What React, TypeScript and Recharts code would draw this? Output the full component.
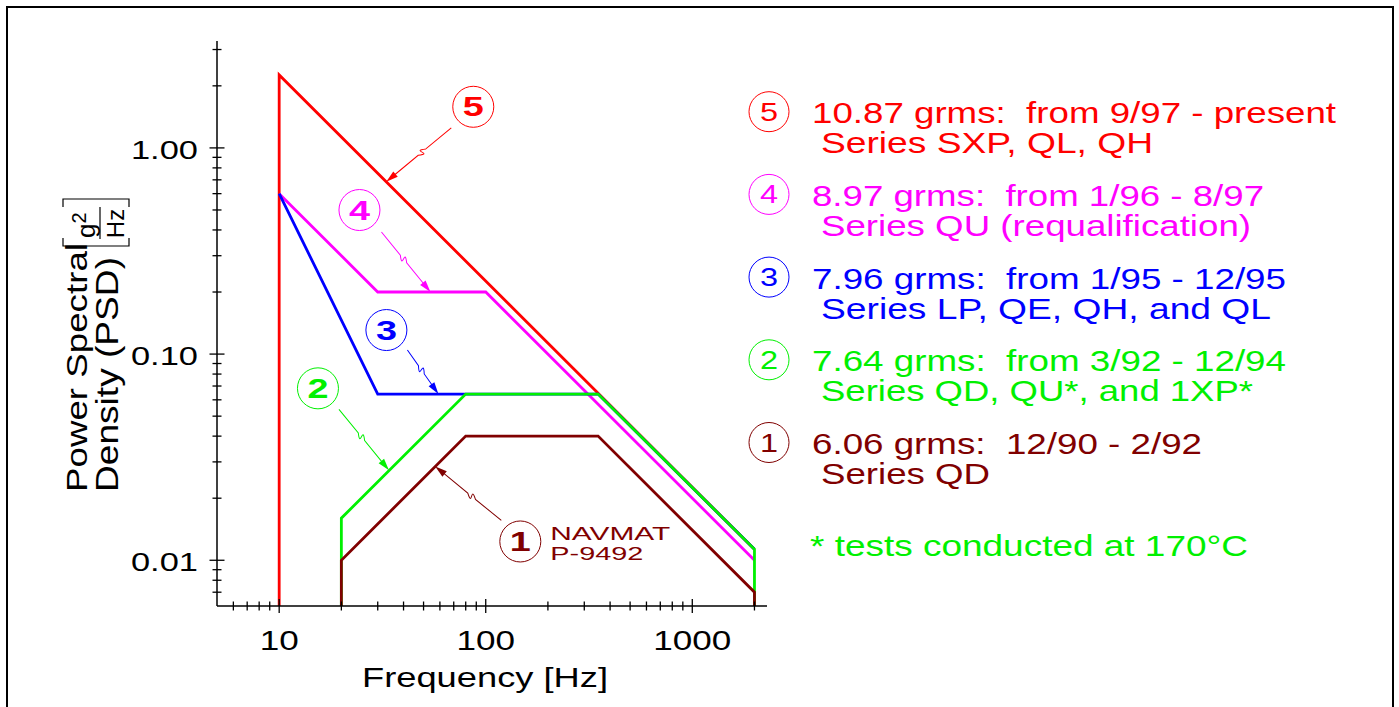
import React from 'react';
import { LineChart, Line, XAxis, YAxis, ReferenceDot } from 'recharts';

const FONT = '"Liberation Sans", Arial, sans-serif';

// breakpoints of each vibration profile: frequency [Hz] and PSD [g^2/Hz]
const freq5 = [10, 10, 2000];
const psd5 = [0.006, 2.26, 0.0113];
const freq4 = [10, 30, 100, 2000];
const psd4 = [0.6, 0.2, 0.2, 0.01];
const freq3 = [10, 30, 80, 350, 2000];
const psd3 = [0.6, 0.064, 0.064, 0.064, 0.0113];
const freq2 = [20, 20, 80, 350, 2000, 2000];
const psd2 = [0.006, 0.016, 0.064, 0.064, 0.0113, 0.006];
const freq1 = [20, 20, 80, 350, 2000, 2000];
const psd1 = [0.006, 0.01, 0.04, 0.04, 0.007, 0.006];

const seriesIds = ['5', '4', '3', '2', '1'];
const seriesColors = ['#ff0000', '#ff00ff', '#0000ff', '#00f000', '#800000'];

const legendLine1 = [
  '10.87 grms:  from 9/97 - present',
  '8.97 grms:  from 1/96 - 8/97',
  '7.96 grms:  from 1/95 - 12/95',
  '7.64 grms:  from 3/92 - 12/94',
  '6.06 grms:  12/90 - 2/92',
];
const legendLine2 = [
  'Series SXP, QL, QH',
  'Series QU (requalification)',
  'Series LP, QE, QH, and QL',
  'Series QD, QU*, and 1XP*',
  'Series QD',
];
const legendLen1 = [524, 452, 474, 474, 390];
const legendLen2 = [332, 430, 450, 432, 169];
const footnote = '* tests conducted at 170°C';

// where each numbered callout arrow touches its curve
const calloutFreq = [33, 54, 59, 34, 57];
const calloutPsd = [0.685, 0.2, 0.064, 0.0273, 0.0285];

const xTicks = [6, 7, 8, 9, 10, 20, 30, 40, 50, 60, 70, 80, 90, 100, 200, 300, 400, 500, 600, 700, 800, 900, 1000, 2000];
const xLabelTicks = [10, 100, 1000];
const yTicks = [
  0.007, 0.008, 0.009, 0.01, 0.02, 0.03, 0.04, 0.05, 0.06, 0.07, 0.08, 0.09,
  0.1, 0.2, 0.3, 0.4, 0.5, 0.6, 0.7, 0.8, 0.9, 1, 2, 3,
];
const yLabelTicks = [0.01, 0.1, 1];
const yLabelText = ['0.01', '0.10', '1.00'];

const toRows = (f: number[], p: number[]) => f.map((v, i) => ({ f: v, psd: p[i] }));
const seriesData = [
  toRows(freq5, psd5),
  toRows(freq4, psd4),
  toRows(freq3, psd3),
  toRows(freq2, psd2),
  toRows(freq1, psd1),
];

// stretched text, the source image is wide
function ST({ x, y, size, children, fill = '#000', anchor = 'start', sx = 1.3, len, rotate = 0, weight = 400 }: any) {
  return (
    <text
      transform={`translate(${x},${y}) rotate(${rotate})${len ? '' : ` scale(${sx},1)`}`}
      fontSize={size}
      fontFamily={FONT}
      fontWeight={weight}
      fill={fill}
      textAnchor={anchor}
      textLength={len}
      lengthAdjust={len ? 'spacingAndGlyphs' : undefined}
      style={{ whiteSpace: 'pre' }}
    >
      {children}
    </text>
  );
}

const YTick = (p: any) => {
  const v = p.payload.value;
  const idx = yLabelTicks.indexOf(v);
  const h = idx >= 0 ? 7.5 : 4.5;
  return (
    <g>
      <line x1={p.x - h} x2={p.x + h} y1={p.y} y2={p.y} stroke="#000" strokeWidth={1.3} />
      {idx >= 0 && (
        <ST x={p.x - 19} y={p.y + 11} size={26.5} anchor="end">
          {yLabelText[idx]}
        </ST>
      )}
    </g>
  );
};

const XTick = (p: any) => {
  const v = p.payload.value;
  const major = xLabelTicks.includes(v);
  const h = major ? 7 : 4.5;
  return (
    <g>
      <line x1={p.x} x2={p.x} y1={p.y - h} y2={p.y + h} stroke="#000" strokeWidth={1.3} />
      {major && (
        <ST x={p.x} y={p.y + 44} size={27} anchor="middle">
          {String(v)}
        </ST>
      )}
    </g>
  );
};

// circle offset and leader start offset, relative to the arrow tip
const calloutCircle = [[87, -75], [-71, -82], [-52, -64], [-71, -82], [85, 75]];
const calloutStart = [[65, -54], [-49, -60], [-31, -44], [-50, -61], [66, 54]];

function Callout({ cx, cy, k }: any) {
  const color = seriesColors[k];
  const [ox, oy] = calloutCircle[k];
  const [sx, sy] = calloutStart[k];
  const L = Math.hypot(sx, sy);
  const ang = (Math.atan2(sy, sx) * 180) / Math.PI;
  const m = L * 0.55;
  return (
    <g>
      <g transform={`translate(${cx},${cy}) rotate(${ang})`}>
        <path
          d={`M${L},0 L${m + 5},0 C${m - 9},-9 ${m + 9},9 ${m - 5},0 L11,0`}
          fill="none"
          stroke={color}
          strokeWidth={1}
        />
        <polygon points="0,0 12,-3.5 12,3.5" fill={color} />
      </g>
      <circle cx={cx + ox} cy={cy + oy} r={20.5} fill="#fff" stroke={color} strokeWidth={1} />
      <ST x={cx + ox} y={cy + oy + 9.5} size={27} anchor="middle" fill={color} weight={700} sx={1.4}>
        {seriesIds[k]}
      </ST>
      {k === 4 && (
        <>
          <ST x={cx + ox + 30} y={cy + oy - 1} size={17.5} fill={color} len={120}>NAVMAT</ST>
          <ST x={cx + ox + 30} y={cy + oy + 19} size={17.5} fill={color} len={93}>P-9492</ST>
        </>
      )}
    </g>
  );
}

function Overlay() {
  return (
    <svg width={1399} height={707} style={{ position: 'absolute', left: 0, top: 0, pointerEvents: 'none' }}>
      {/* axis titles */}
      <ST x={485} y={687} size={28} anchor="middle" len={246}>Frequency [Hz]</ST>
      <ST x={87} y={492} size={30} rotate={-90} len={249}>Power Spectral</ST>
      <ST x={118} y={492} size={31} rotate={-90} len={235}>Density (PSD)</ST>
      <path d="M63,207 L63,199 L129,199 L129,207" fill="none" stroke="#000" strokeWidth={1.2} />
      <path d="M63,238 L63,246 L129,246 L129,238" fill="none" stroke="#000" strokeWidth={1.2} />
      <line x1={100} x2={100} y1={207} y2={239} stroke="#000" strokeWidth={1.2} />
      <text transform="translate(95,238) rotate(-90)" fontSize={26} fontFamily={FONT}>
        g<tspan dy={-9} fontSize={20}>2</tspan>
      </text>
      <ST x={124} y={223.5} size={24} rotate={-90} anchor="middle" sx={1}>Hz</ST>

      {/* legend */}
      {seriesIds.map((id, k) => {
        const cy = 111.7 + 82.7 * k;
        const c = seriesColors[k];
        return (
          <g key={id}>
            <circle cx={769} cy={cy} r={20} fill="none" stroke={c} strokeWidth={1} />
            <ST x={769} y={cy + 9} size={25} anchor="middle" fill={c} sx={1.3}>{id}</ST>
            <ST x={812} y={cy + 11.6} size={29} fill={c} len={legendLen1[k]}>{legendLine1[k]}</ST>
            <ST x={821} y={cy + 41.6} size={29} fill={c} len={legendLen2[k]}>{legendLine2[k]}</ST>
          </g>
        );
      })}
      <ST x={810} y={556} size={29} fill={seriesColors[3]} len={438}>{footnote}</ST>
    </svg>
  );
}

export default function App() {
  return (
    <div style={{ position: 'absolute', left: 0, top: 0, width: 1399, height: 707, overflow: 'hidden', background: '#fff' }}>
      <LineChart width={1399} height={707} margin={{ top: 41, right: 632, bottom: 71, left: 157 }}>
        <XAxis
          dataKey="f"
          type="number"
          scale="log"
          domain={[5, 2300]}
          allowDataOverflow
          ticks={xTicks}
          interval={0}
          tick={XTick}
          tickSize={0}
          tickMargin={0}
          tickLine={false}
          height={30}
          axisLine={{ stroke: '#000', strokeWidth: 1.5 }}
        />
        <YAxis
          dataKey="psd"
          type="number"
          scale="log"
          domain={[0.006, 3.3]}
          allowDataOverflow
          ticks={yTicks}
          interval={0}
          tick={YTick}
          tickSize={0}
          tickMargin={0}
          tickLine={false}
          width={60}
          axisLine={{ stroke: '#000', strokeWidth: 1.5 }}
        />
        {seriesData.map((d, k) => (
          <Line
            key={seriesIds[k]}
            data={d}
            dataKey="psd"
            type="linear"
            stroke={seriesColors[k]}
            strokeWidth={2.8}
            dot={false}
            activeDot={false}
            isAnimationActive={false}
          />
        ))}
        {calloutFreq.map((f, k) => (
          <ReferenceDot
            key={'c' + k}
            x={f}
            y={calloutPsd[k]}
            r={3}
            ifOverflow="visible"
            shape={(p: any) => <Callout cx={p.cx} cy={p.cy} k={k} />}
          />
        ))}
      </LineChart>
      <Overlay />
      <div
        style={{
          position: 'absolute',
          left: 6,
          top: 6,
          width: 1388,
          height: 710,
          boxSizing: 'border-box',
          border: '2px solid #000',
          pointerEvents: 'none',
        }}
      />
    </div>
  );
}
